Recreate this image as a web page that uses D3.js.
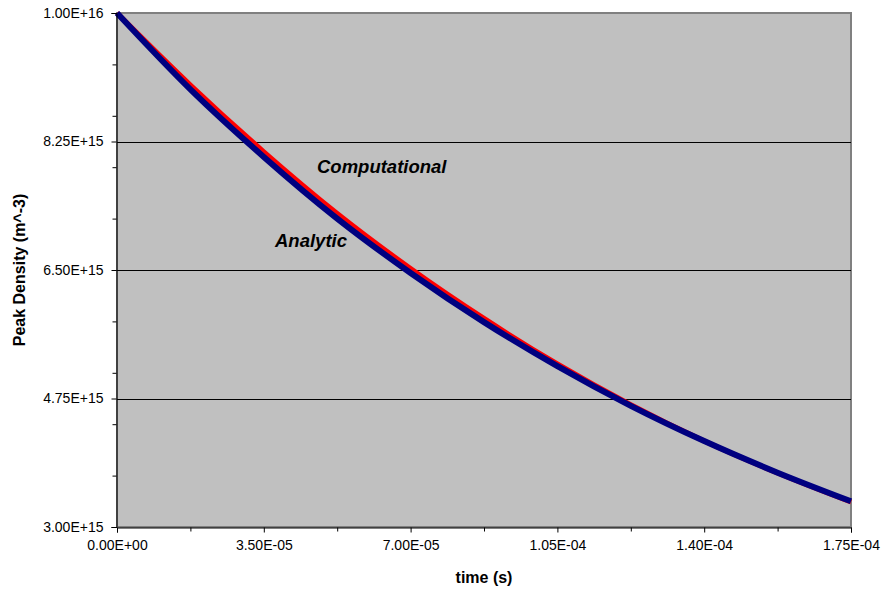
<!DOCTYPE html>
<html>
<head>
<meta charset="utf-8">
<script src="https://cdn.jsdelivr.net/npm/d3@7"></script>
<style>
  html, body { margin: 0; padding: 0; background: #ffffff; }
  svg { display: block; font-family: "Liberation Sans", Arial, sans-serif; }
</style>
</head>
<body>
<svg id="chart" width="886" height="591"></svg>
<script>
// ---- data ----
const times = [0, 1.75e-5, 3.5e-5, 5.25e-5, 7.0e-5, 8.75e-5, 1.05e-4, 1.225e-4, 1.4e-4, 1.575e-4, 1.75e-4];
const analytic = [1.0e16, 8.96e15, 8.04e15, 7.20e15, 6.46e15, 5.79e15, 5.19e15, 4.65e15, 4.17e15, 3.74e15, 3.35e15];
const computational = [1.0e16, 9.02e15, 8.11e15, 7.27e15, 6.52e15, 5.84e15, 5.22e15, 4.665e15, 4.17e15, 3.735e15, 3.34e15];

const xTickValues = [0, 3.5e-5, 7.0e-5, 1.05e-4, 1.4e-4, 1.75e-4];
const xTickLabels = ["0.00E+00", "3.50E-05", "7.00E-05", "1.05E-04", "1.40E-04", "1.75E-04"];
const xMinorTicks = [1.75e-5, 5.25e-5, 8.75e-5, 1.225e-4, 1.575e-4];

const yTickValues = [3.0e15, 4.75e15, 6.5e15, 8.25e15, 1.0e16];
const yTickLabels = ["3.00E+15", "4.75E+15", "6.50E+15", "8.25E+15", "1.00E+16"];
const yMinorTicks = [3.7e15, 4.4e15, 5.1e15, 5.8e15, 6.5e15, 7.2e15, 7.9e15, 8.6e15, 9.3e15];
const gridValues = [4.75e15, 6.5e15, 8.25e15];

const seriesNames = ["Computational", "Analytic"];
const xTitle = "time (s)";
const yTitle = "Peak Density (m^-3)";

// ---- layout ----
const L = 117, R = 851, T = 13, B = 527;
const svg = d3.select("#chart");

const x = d3.scaleLinear().domain([0, 1.75e-4]).range([L, R]);
const y = d3.scaleLinear().domain([3.0e15, 1.0e16]).range([B, T]);

// plot background
svg.append("rect")
  .attr("x", L).attr("y", T).attr("width", R - L).attr("height", B - T)
  .attr("fill", "#c0c0c0")
  .attr("stroke", "#808080").attr("stroke-width", 2);

// gridlines
svg.append("g").selectAll("line").data(gridValues).join("line")
  .attr("x1", L).attr("x2", R)
  .attr("y1", d => Math.round(y(d)) + 0.5).attr("y2", d => Math.round(y(d)) + 0.5)
  .attr("stroke", "#000").attr("stroke-width", 1);

// series
const lineGen = d3.line()
  .x((d, i) => x(times[i]))
  .y(d => y(d))
  .curve(d3.curveMonotoneX);

svg.append("path").datum(computational)
  .attr("d", lineGen).attr("fill", "none")
  .attr("stroke", "#ff0000").attr("stroke-width", 5);

svg.append("path").datum(analytic)
  .attr("d", lineGen).attr("fill", "none")
  .attr("stroke", "#000080").attr("stroke-width", 6);

// axes
const xAxis = d3.axisBottom(x).tickValues(xTickValues)
  .tickFormat((d, i) => xTickLabels[i]).tickSizeOuter(0).tickSize(5).tickPadding(8);
const gx = svg.append("g").attr("transform", `translate(0,${B + 0.5})`).call(xAxis);
gx.select(".domain").attr("stroke", "#000");
gx.selectAll("text").attr("font-size", 14).attr("fill", "#000")
  .attr("font-family", "'Liberation Sans', Arial, sans-serif");

const xMinor = d3.axisBottom(x).tickValues(xMinorTicks).tickFormat("").tickSize(4).tickSizeOuter(0);
const gxm = svg.append("g").attr("transform", `translate(0,${B + 0.5})`).call(xMinor);
gxm.select(".domain").remove();

const yAxis = d3.axisLeft(y).tickValues(yTickValues)
  .tickFormat((d, i) => yTickLabels[i]).tickSizeOuter(0).tickSize(5).tickPadding(8);
const gy = svg.append("g").attr("transform", `translate(${L - 0.5},0)`).call(yAxis);
gy.select(".domain").attr("stroke", "#000");
gy.selectAll("text").attr("font-size", 14).attr("fill", "#000")
  .attr("font-family", "'Liberation Sans', Arial, sans-serif");

const yMinor = d3.axisLeft(y).tickValues(yMinorTicks).tickFormat("").tickSize(4).tickSizeOuter(0);
const gym = svg.append("g").attr("transform", `translate(${L - 0.5},0)`).call(yMinor);
gym.select(".domain").remove();

// axis titles
svg.append("text")
  .attr("x", (L + R) / 2).attr("y", 583)
  .attr("text-anchor", "middle")
  .attr("font-size", 16).attr("font-weight", "bold").attr("fill", "#000")
  .text(xTitle);

svg.append("text")
  .attr("transform", `translate(25,${(T + B) / 2}) rotate(-90)`)
  .attr("text-anchor", "middle")
  .attr("font-size", 16).attr("font-weight", "bold").attr("fill", "#000")
  .text(yTitle);

// series labels
svg.append("text")
  .attr("x", 317).attr("y", 173)
  .attr("font-size", 18.5).attr("font-weight", "bold").attr("font-style", "italic").attr("fill", "#000")
  .text(seriesNames[0]);

svg.append("text")
  .attr("x", 275).attr("y", 247)
  .attr("font-size", 18.5).attr("font-weight", "bold").attr("font-style", "italic").attr("fill", "#000")
  .text(seriesNames[1]);
</script>
</body>
</html>
